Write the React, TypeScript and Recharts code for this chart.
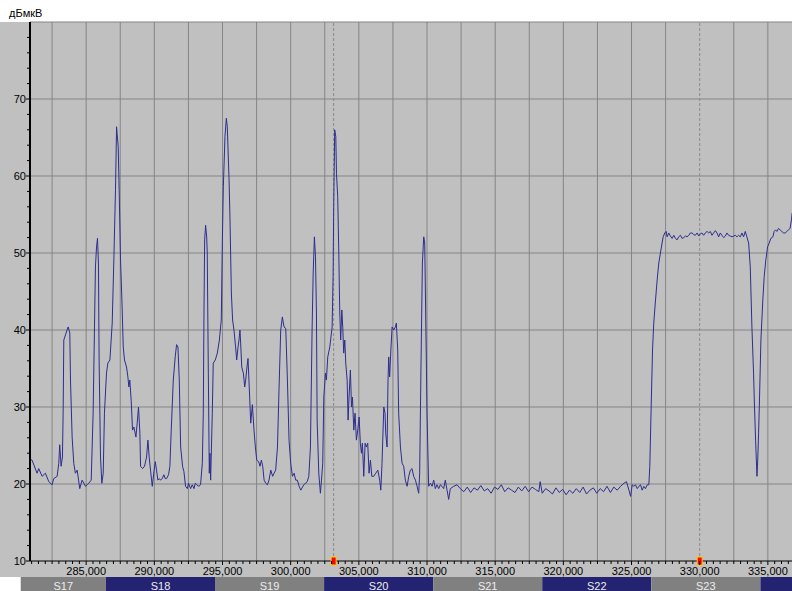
import React from "react";
import {
  LineChart,
  Line,
  XAxis,
  YAxis,
  CartesianGrid,
  ReferenceArea,
  ReferenceLine,
  ReferenceDot,
} from "recharts";

// spectrum trace, [frequency kHz, level dBuV]
const traceA: [number, number][] = [
  [280900, 23.2], [281030, 23.1], [281400, 21.4], [281520, 22.0], [281770, 21.0], [282010, 21.4],
  [282260, 20.3], [282500, 19.9], [282620, 20.7], [282870, 21.0], [282990, 22.7], [283060, 25.1],
  [283160, 22.3], [283260, 23.5], [283310, 29.2], [283360, 38.7], [283600, 40.0], [283680, 40.4],
  [283800, 39.6], [283850, 33.5], [283970, 26.1], [284090, 22.7], [284210, 21.4], [284340, 21.8],
  [284530, 19.4], [284700, 20.5], [284830, 20.1], [284950, 19.7], [285070, 19.9], [285190, 20.1],
  [285370, 20.5], [285510, 29.2], [285610, 40.4], [285680, 48.2], [285760, 50.8], [285830, 51.9],
  [285900, 48.7], [285950, 36.1], [286050, 23.5], [286150, 20.1], [286250, 21.4], [286340, 29.2],
  [286490, 34.4], [286590, 35.7], [286740, 36.1], [286910, 40.9], [287030, 49.1], [287150, 58.2],
  [287230, 66.4], [287270, 65.5], [287350, 63.8], [287420, 58.2], [287520, 49.1], [287620, 43.9],
  [287720, 37.8], [287810, 36.1], [287960, 35.2], [288060, 33.9], [288130, 32.6], [288200, 33.5],
  [288300, 30.9], [288400, 27.0], [288500, 27.4], [288650, 26.1], [288740, 27.9], [288840, 30.0],
  [288940, 26.6], [288990, 22.3], [289140, 22.0], [289280, 22.3], [289430, 23.5], [289530, 25.7],
  [289620, 23.5], [289720, 21.8], [289850, 19.7], [289970, 21.6], [290070, 22.9], [290160, 21.8],
  [290260, 20.5], [290360, 20.7], [290460, 20.5], [290580, 20.7], [290700, 21.2], [290800, 20.7],
  [290900, 20.7], [291040, 21.2], [291140, 22.3], [291240, 27.0], [291390, 33.5], [291530, 36.5],
  [291630, 38.1], [291730, 37.8], [291830, 33.5], [291930, 24.8], [292070, 22.3], [292170, 21.6],
  [292290, 19.7], [292420, 19.4], [292510, 20.1], [292660, 19.4], [292780, 19.9], [292910, 19.4],
  [293000, 20.1], [293100, 19.9], [293270, 19.7], [293390, 19.9], [293520, 22.7], [293590, 29.2],
  [293640, 42.2], [293690, 51.7], [293760, 53.6], [293840, 52.1], [293880, 50.0], [293960, 34.4],
  [294030, 21.4], [294080, 24.0], [294130, 20.5], [294250, 29.2], [294320, 35.7], [294470, 36.1],
  [294620, 37.0], [294770, 38.7], [294910, 41.3], [294990, 51.7], [295060, 58.6], [295180, 65.1],
  [295280, 67.5], [295350, 66.4], [295480, 59.5], [295550, 54.3], [295650, 44.8], [295740, 41.3],
  [295840, 40.0], [295960, 37.8], [296040, 36.1], [296140, 37.8], [296210, 38.7], [296280, 40.0],
  [296330, 38.3], [296410, 35.2], [296530, 34.4], [296630, 32.6], [296700, 33.5], [296770, 34.8],
  [296870, 36.3], [296970, 32.2], [297070, 27.9], [297190, 30.3], [297310, 27.0], [297410, 24.8],
  [297510, 23.1], [297650, 22.9], [297750, 22.3], [297850, 23.1], [297950, 22.3], [298050, 20.5],
  [298170, 20.1], [298290, 19.9], [298410, 20.5], [298540, 21.8], [298680, 21.0], [298780, 21.4],
  [298900, 21.8], [299030, 24.8], [299150, 32.6], [299270, 40.0], [299390, 41.7], [299510, 40.4],
  [299640, 40.2], [299760, 33.5], [299880, 25.7], [300000, 22.7], [300130, 21.0], [300250, 21.4],
  [300370, 20.5], [300490, 20.5], [300620, 19.7], [300740, 19.2],
];

const traceB: [number, number][] = [
  [300960, 19.9], [301210, 20.3], [301330, 21.0], [301450, 24.8], [301570, 40.0], [301650, 47.4],
  [301740, 52.1], [301820, 49.5], [301890, 42.2], [301940, 28.3], [302060, 21.4], [302180, 18.8],
  [302260, 20.5], [302350, 22.7], [302430, 31.3], [302550, 34.4], [302620, 33.5], [302720, 36.5],
  [302870, 37.8], [303040, 40.4], [303110, 46.9], [303160, 56.5], [303230, 66.0], [303310, 65.1],
  [303360, 60.3], [303450, 57.3], [303530, 50.0], [303600, 42.2], [303670, 38.7], [303750, 42.6],
  [303820, 40.4], [303890, 37.0], [303970, 38.7], [304040, 35.7], [304140, 33.5], [304210, 28.3],
  [304280, 31.3], [304380, 34.8], [304460, 30.0], [304530, 31.3], [304630, 27.0], [304720, 29.2],
  [304820, 25.7], [304920, 27.0], [305020, 28.7], [305110, 25.3], [305190, 24.0], [305260, 25.3],
  [305360, 21.0], [305460, 25.3], [305550, 24.8], [305650, 25.3], [305750, 21.4], [305850, 23.1],
  [305950, 21.0], [306090, 21.0], [306240, 21.4], [306390, 21.8], [306530, 20.5], [306610, 19.2],
  [306700, 22.7], [306830, 30.0], [306920, 29.2], [306970, 26.6], [307070, 24.8], [307140, 33.5],
  [307190, 36.5], [307260, 33.9], [307360, 37.8], [307440, 40.4], [307560, 40.0], [307680, 40.4],
  [307750, 40.9], [307850, 37.4], [307920, 29.2], [308050, 24.8], [308170, 22.7], [308290, 22.3],
  [308410, 20.5], [308540, 19.7], [308660, 21.0], [308780, 21.8], [308900, 22.0], [309020, 21.0],
  [309150, 20.5], [309270, 19.7], [309390, 18.8], [309460, 21.4], [309560, 35.7], [309660, 48.7],
  [309760, 52.1], [309830, 51.3], [309900, 42.6], [310000, 29.2], [310120, 19.7], [310250, 20.1],
  [310370, 19.7], [310490, 20.5], [310610, 19.4], [310730, 19.9], [310860, 19.4], [310980, 19.9],
  [311100, 19.7], [311220, 19.4], [311340, 20.5], [311470, 19.2], [311590, 18.0], [311710, 19.4],
  [311960, 19.7], [312200, 19.9], [312440, 19.4],
];

const traceC: [number, number][] = [
  [312700, 19.0], [312950, 19.6], [313200, 18.9], [313450, 19.5], [313700, 19.2], [313950, 19.8],
  [314200, 19.1], [314450, 19.4], [314700, 18.8], [314950, 19.6], [315200, 19.3], [315450, 19.9],
  [315700, 19.0], [315950, 19.5], [316200, 19.2], [316450, 18.9], [316700, 19.6], [316950, 19.1],
  [317200, 19.7], [317450, 19.0], [317700, 19.6], [317950, 19.3], [318200, 19.0], [318300, 20.3],
  [318450, 18.8], [318700, 19.4], [318950, 19.1], [319200, 18.7], [319450, 19.5], [319700, 18.9],
  [319950, 19.3], [320200, 18.6], [320450, 19.2], [320700, 18.8], [320950, 19.4], [321200, 18.9],
  [321450, 19.6], [321700, 18.7], [321950, 19.2], [322200, 19.5], [322450, 18.8], [322700, 19.4],
  [322950, 19.0], [323200, 19.7], [323450, 18.9], [323700, 19.6], [323950, 19.2],
];

const traceD: [number, number][] = [
  [324200, 19.7], [324440, 20.1], [324630, 20.3], [324810, 19.2], [324930, 18.4], [325050, 19.9],
  [325170, 19.7], [325290, 19.9], [325420, 19.4], [325540, 19.7], [325660, 19.9], [325780, 19.2],
  [325900, 19.7], [326020, 19.4], [326150, 19.9], [326270, 19.9], [326340, 22.3], [326440, 30.0],
  [326540, 37.4], [326630, 40.9], [326760, 43.9], [326880, 46.5], [327000, 48.7], [327120, 50.0],
  [327240, 51.3], [327320, 52.1], [327440, 52.6], [327540, 52.8], [327610, 52.1], [327730, 52.6],
  [327850, 52.2], [327980, 51.9], [328100, 52.3], [328220, 51.9], [328340, 51.7], [328460, 52.1],
  [328590, 52.3], [328710, 51.9], [328830, 52.0], [328950, 52.2], [329070, 52.1], [329200, 52.3],
  [329320, 52.6], [329440, 52.6], [329560, 52.4], [329680, 52.3], [329810, 52.6], [329930, 52.2],
  [330050, 52.5], [330170, 52.6], [330290, 52.3], [330410, 52.6], [330540, 52.8], [330660, 52.6],
  [330780, 52.8], [330900, 52.3], [331020, 52.6], [331150, 52.9], [331270, 52.6], [331390, 52.1],
  [331510, 52.6], [331630, 52.3], [331760, 52.0], [331880, 52.2], [332000, 52.6], [332120, 52.3],
  [332240, 52.2], [332370, 52.1], [332490, 52.2], [332610, 52.3], [332730, 52.1], [332850, 52.3],
  [332980, 52.1], [333100, 52.6], [333220, 52.1], [333340, 52.8], [333460, 52.1], [333590, 51.3],
  [333710, 48.2], [333830, 40.4], [333950, 34.4], [334020, 30.0], [334100, 25.7], [334200, 21.0],
  [334240, 22.3], [334320, 26.6], [334390, 31.3], [334490, 38.7], [334630, 43.9], [334730, 46.9],
  [334850, 49.1], [334980, 50.8], [335100, 51.3], [335220, 51.9], [335370, 52.1], [335460, 52.8],
  [335560, 53.0], [335660, 52.8], [335780, 53.2], [335900, 53.0], [336020, 52.8], [336150, 52.6],
  [336270, 52.6], [336390, 52.8], [336510, 53.0], [336630, 53.2], [336730, 54.3], [336780, 55.2],
];

// channel strip under the axis
const channelNames = ["S17", "S18", "S19", "S20", "S21", "S22", "S23", ""];
const channelEdges = [280200, 286450, 294450, 302450, 310450, 318450, 326450, 334450, 336770];

const markerFreqs = [303150, 330000];
const xLabelTicks = [285000, 290000, 295000, 300000, 305000, 310000, 315000, 320000, 325000, 330000, 335000];
const xGridValues = [
  282500, 285000, 287500, 290000, 292500, 295000, 297500, 300000, 302500, 305000,
  307500, 310000, 312500, 315000, 317500, 320000, 322500, 325000, 327500, 332500, 335000,
];
const yLabelTicks = [10, 20, 30, 40, 50, 60, 70];
const yGridValues = [20, 30, 40, 50, 60, 70, 80];

const chartData = [...traceA, ...traceB, ...traceC, ...traceD].map(([f, v]) => ({ f, v }));

const xMinorTicks: number[] = [];
for (let t = 281000; t <= 336500; t += 500) xMinorTicks.push(t);
const yMinorTicks: number[] = [];
for (let t = 10; t <= 78; t += 2) yMinorTicks.push(t);

const FONT = "'Liberation Sans', Arial, sans-serif";

const XTick = (props: any) => {
  const { x, y, payload } = props;
  const major = xLabelTicks.includes(payload.value);
  return (
    <g>
      <line x1={x} y1={y} x2={x} y2={y + (major ? 4 : 3)} stroke="#000" />
      {major && (
        <text x={x} y={y + 14} textAnchor="middle" fontSize={11} fontFamily={FONT} fill="#000">
          {payload.value.toLocaleString("en-US")}
        </text>
      )}
    </g>
  );
};

const YTick = (props: any) => {
  const { x, y, payload } = props;
  const major = yLabelTicks.includes(payload.value);
  return (
    <g>
      <line x1={x - (major ? 4 : 3)} y1={y} x2={x} y2={y} stroke="#000" />
      {major && (
        <text x={x - 4} y={y + 4} textAnchor="end" fontSize={11} fontFamily={FONT} fill="#000">
          {payload.value}
        </text>
      )}
    </g>
  );
};

const Marker = (props: any) => (
  <rect x={props.cx - 2.5} y={props.cy - 4} width={5} height={8} fill="#ff0000" stroke="#ffcc00" strokeWidth={1} />
);

export default function App() {
  return (
    <div style={{ position: "absolute", left: 0, top: 0, width: 792, height: 591, background: "#ffffff", overflow: "hidden" }}>
      <div style={{ position: "absolute", left: 0, top: 22, width: 792, height: 555, background: "#c0c0c0" }} />
      <div style={{ position: "absolute", left: 9, top: 7, fontSize: 11, lineHeight: "13px", fontFamily: FONT, color: "#000" }}>
        дБмкВ
      </div>
      <div style={{ position: "absolute", left: 0, top: 0 }}>
        <LineChart width={792} height={591} data={chartData} margin={{ top: 22, right: 0, bottom: 0, left: 0 }}>
          <CartesianGrid stroke="#858585" horizontalValues={yGridValues} verticalValues={xGridValues} />
          {channelNames.map((name, i) => (
            <ReferenceArea
              key={i}
              x1={channelEdges[i]}
              x2={channelEdges[i + 1]}
              y1={6.1}
              y2={7.92}
              ifOverflow="visible"
              fill={i % 2 === 0 ? "#808080" : "#232371"}
              fillOpacity={1}
              stroke="none"
              label={(p: any) => (
                <text
                  x={p.viewBox.x + p.viewBox.width / 2}
                  y={p.viewBox.y + 12.5}
                  textAnchor="middle"
                  fontSize={11}
                  fontFamily={FONT}
                  fill="#ececec"
                >
                  {name}
                </text>
              )}
            />
          ))}
          <XAxis
            dataKey="f"
            type="number"
            domain={[280880, 336770]}
            allowDataOverflow
            ticks={xMinorTicks}
            interval={0}
            tick={<XTick />}
            tickLine={false}
            tickSize={0}
            tickMargin={0}
            height={30}
            axisLine={{ stroke: "#000", strokeWidth: 1 }}
          />
          <YAxis
            type="number"
            domain={[10, 80]}
            allowDataOverflow
            ticks={yMinorTicks}
            interval={0}
            tick={<YTick />}
            tickLine={false}
            tickSize={0}
            tickMargin={0}
            width={30}
            axisLine={{ stroke: "#000", strokeWidth: 2 }}
          />
          {markerFreqs.map((f) => (
            <ReferenceLine key={"l" + f} x={f} stroke="#8a8a8a" strokeDasharray="3 2" />
          ))}
          <Line type="linear" dataKey="v" stroke="#2d2d8f" strokeWidth={1} dot={false} isAnimationActive={false} />
          {markerFreqs.map((f) => (
            <ReferenceDot key={"d" + f} x={f} y={10} ifOverflow="visible" shape={<Marker />} />
          ))}
        </LineChart>
      </div>
    </div>
  );
}
